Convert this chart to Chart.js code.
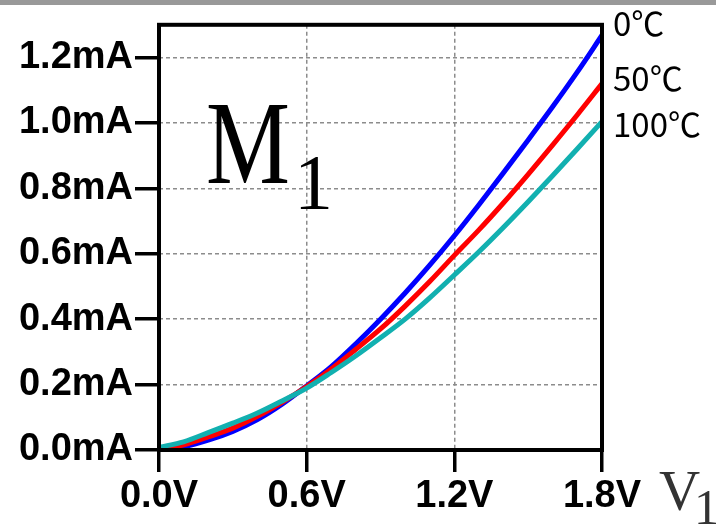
<!DOCTYPE html>
<html>
<head>
<meta charset="utf-8">
<script src="https://cdn.jsdelivr.net/npm/chart.js@4.4.0/dist/chart.umd.min.js"></script>
<style>
html,body{margin:0;padding:0;background:#fff;}
#wrap{width:716px;height:525px;position:relative;}
</style>
</head>
<body>
<div id="wrap"><canvas id="c" width="716" height="525"></canvas></div>
<script>
// Data
const voltages = [0,0.1,0.2,0.3,0.4,0.5,0.6,0.7,0.8,0.9,1.0,1.1,1.2,1.3,1.4,1.5,1.6,1.7,1.8];
const current0C   = [0.000,0.010,0.030,0.057,0.093,0.140,0.196,0.255,0.325,0.400,0.480,0.565,0.655,0.750,0.848,0.948,1.050,1.156,1.268];
const current50C  = [0.003,0.016,0.040,0.067,0.103,0.146,0.194,0.248,0.308,0.370,0.440,0.515,0.595,0.673,0.756,0.843,0.933,1.025,1.120];
const current100C = [0.008,0.025,0.053,0.082,0.113,0.150,0.189,0.237,0.288,0.343,0.400,0.465,0.535,0.606,0.681,0.759,0.839,0.921,1.004];
const seriesLabels = ['0℃','50℃','100℃'];
const xTicks = [0,0.6,1.2,1.8];
const yTicks = [0,0.2,0.4,0.6,0.8,1.0,1.2];

const pts = arr => voltages.map((v,i)=>({x:v,y:arr[i]}));

const decor = {
  id:'decor',
  beforeDraw(chart){
    const ctx = chart.ctx;
    ctx.save();
    ctx.fillStyle='#fff';
    ctx.fillRect(0,0,chart.width,chart.height);
    ctx.fillStyle='#999999';
    ctx.fillRect(0,0,chart.width,5);
    ctx.restore();
  },
  afterDraw(chart){
    const ctx = chart.ctx;
    const a = chart.chartArea;
    ctx.save();
    ctx.strokeStyle='#000';
    ctx.lineWidth=4;
    ctx.strokeRect(a.left,a.top,a.right-a.left,a.bottom-a.top);
    ctx.fillStyle='#000';
    ctx.font='33px "Noto Sans CJK JP", "DejaVu Sans", sans-serif';
    ctx.textBaseline='alphabetic';
    ctx.textAlign='left';
    const lx = a.right + 11;
    ctx.fillText(seriesLabels[0], lx, 36);
    ctx.fillText(seriesLabels[1], lx, 91);
    ctx.fillText(seriesLabels[2], lx, 137);
    ctx.save();
    ctx.translate(206,183);
    ctx.scale(0.8,1);
    ctx.font='118px "Liberation Serif", "DejaVu Serif", serif';
    ctx.fillText('M',0,0);
    ctx.restore();
    ctx.font='78px "Liberation Serif", "DejaVu Serif", serif';
    ctx.fillText('1',294,208);
    ctx.fillStyle='#333';
    ctx.font='57px "Liberation Serif", "DejaVu Serif", serif';
    ctx.fillText('V',659,510);
    ctx.font='50px "Liberation Serif", "DejaVu Serif", serif';
    ctx.fillText('1',694,524);
    ctx.restore();
  }
};

new Chart(document.getElementById('c'),{
  type:'line',
  data:{
    datasets:[
      {label:seriesLabels[2],data:pts(current100C),borderColor:'#12b0b0',borderWidth:5},
      {label:seriesLabels[1],data:pts(current50C),borderColor:'#ff0000',borderWidth:5},
      {label:seriesLabels[0],data:pts(current0C),borderColor:'#0000ff',borderWidth:5}
    ]
  },
  options:{
    responsive:false,
    animation:false,
    events:[],
    elements:{point:{radius:0},line:{cubicInterpolationMode:'monotone',fill:false}},
    layout:{padding:{left:0,right:114,top:22,bottom:0}},
    plugins:{legend:{display:false},tooltip:{enabled:false},title:{display:false}},
    scales:{
      x:{
        type:'linear',min:0,max:1.8,
        afterBuildTicks(s){s.ticks = xTicks.map(v=>({value:v}));},
        afterFit(s){s.height=75;},
        ticks:{
          callback:v=>v.toFixed(1)+'V',
          color:'#000',
          font:{family:'"Liberation Sans", Arial, sans-serif',size:38,weight:'bold'},
          padding:2,maxRotation:0,autoSkip:false
        },
        grid:{color:'#8c8c8c',lineWidth:1.5,tickColor:'#000',tickWidth:3.5,tickLength:22,drawTicks:true},
        border:{display:false,dash:[4,3]}
      },
      y:{
        type:'linear',min:0,max:1.3,
        afterBuildTicks(s){s.ticks = yTicks.map(v=>({value:v}));},
        afterFit(s){s.width=159;},
        ticks:{
          callback:v=>v.toFixed(1)+'mA',
          color:'#000',
          font:{family:'"Liberation Sans", Arial, sans-serif',size:38,weight:'bold'},
          padding:2,autoSkip:false
        },
        grid:{color:'#8c8c8c',lineWidth:1.5,tickColor:'#000',tickWidth:3.5,tickLength:24,drawTicks:true},
        border:{display:false,dash:[4,3]}
      }
    }
  },
  plugins:[decor]
});
</script>
</body>
</html>
